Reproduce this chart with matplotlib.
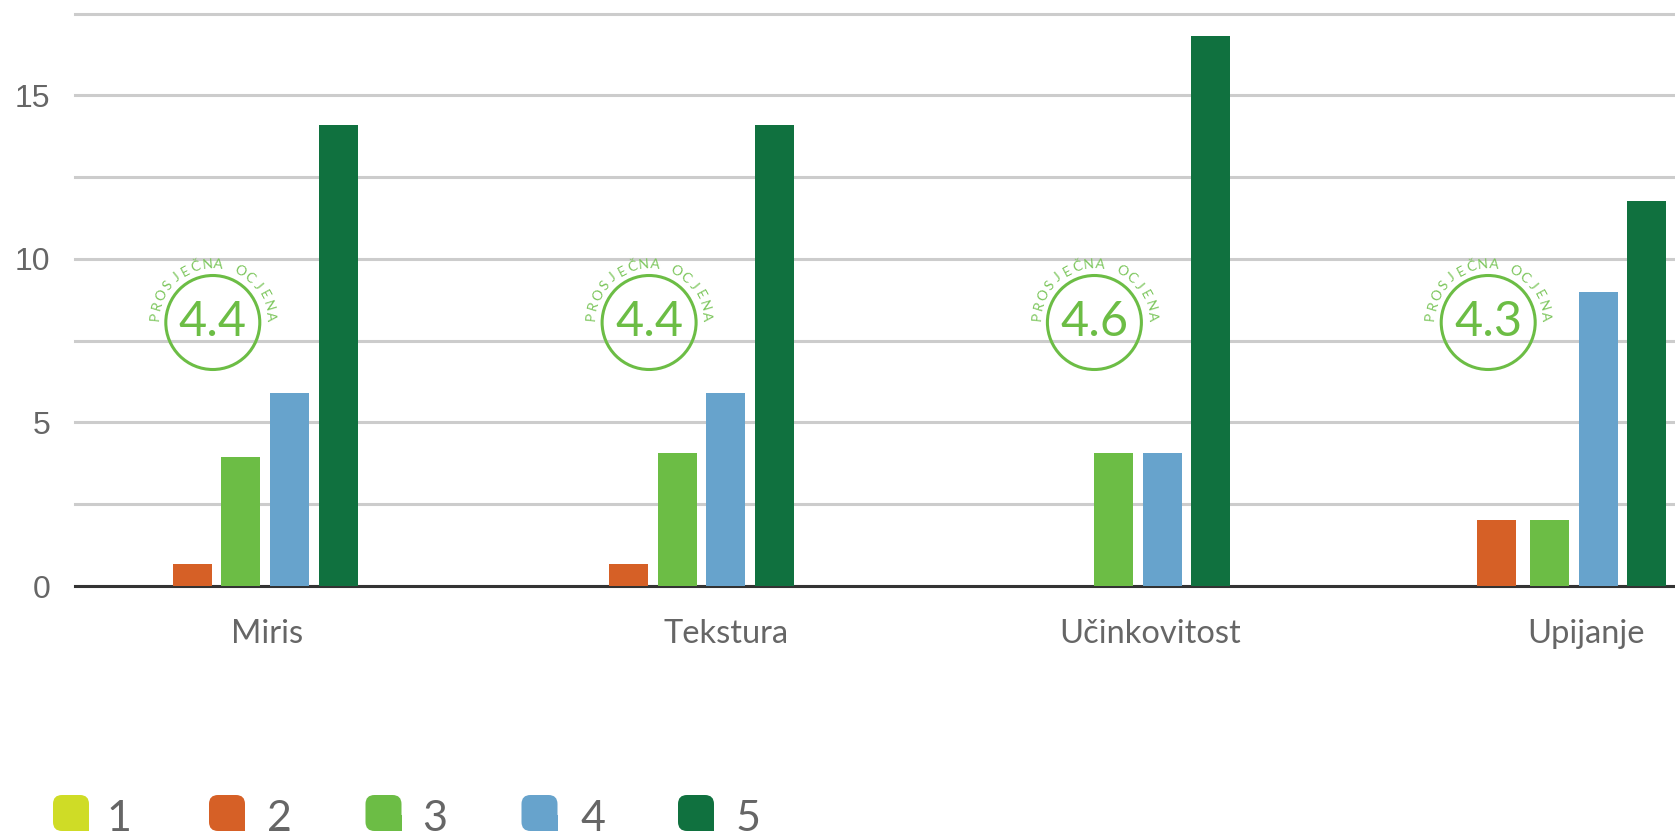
#!/usr/bin/env python3

import matplotlib
matplotlib.use("Agg")
import matplotlib.pyplot as plt
import numpy as np
from matplotlib.patches import Circle, FancyBboxPatch

W, H = 1675, 833

categories = ["Miris", "Tekstura", "Učinkovitost", "Upijanje"]
ratings = ["1", "2", "3", "4", "5"]
series_1 = [0, 0, 0, 0]
series_2 = [0.67, 0.67, 0, 2.03]
series_3 = [3.95, 4.06, 4.06, 2.03]
series_4 = [5.9, 5.9, 4.06, 9]
series_5 = [14.1, 14.1, 16.82, 11.78]
averages = ["4.4", "4.4", "4.6", "4.3"]

series = [series_1, series_2, series_3, series_4, series_5]
colors = ["#cfdc26", "#d66026", "#6cbd45", "#67a3cc", "#10713f"]
text_grey = "#666666"
badge_label = "PROSJEČNA OCJENA"

GROUP0 = 240.8   # px centre of first group
PITCH = 436.3
BAR_STEP = 48.6
BAR_W = 39
LABEL_OFFS = [26, 49, 37, 36]
BADGE_OFFS = [-28, -28, -19, -61.5]

plt.rcParams["font.family"] = ["Lato", "DejaVu Sans"]
fig = plt.figure(figsize=(W / 100, H / 100), dpi=100)

# axes in px-derived x units so that one x unit = one group
left, right = 75, W
ax = fig.add_axes([left / W, 1 - 586 / H, (right - left) / W, (586 - 13.5) / H])
ax.set_xlim((left - GROUP0) / PITCH, (right - GROUP0) / PITCH)
ax.set_ylim(0, 17.5)

x = np.arange(len(categories))
for i, vals in enumerate(series):
    xs = x + (i - 2) * BAR_STEP / PITCH
    if i == 1:
        # the orange bar of the last group sits a bit further left
        xs[3] -= 4.3 / PITCH
    ax.bar(xs, vals, BAR_W / PITCH, color=colors[i], zorder=3)

ax.set_yticks(np.arange(0, 17.6, 2.5), minor=False)
ax.set_yticklabels(["0", "", "5", "", "10", "", "15", ""])
ax.grid(axis="y", color="#cccccc", lw=2.2, zorder=0, clip_on=False)
ax.set_axisbelow(True)
for s in ["top", "left", "right"]:
    ax.spines[s].set_visible(False)
ax.spines["bottom"].set_color("#333333")
ax.spines["bottom"].set_linewidth(2.2)
ax.spines["bottom"].set_zorder(2)
ax.tick_params(axis="y", length=0, pad=18, labelsize=23, labelcolor=text_grey)
for t in ax.get_yticklabels():
    t.set_family(["Liberation Sans"])

ax.set_xticks(x + np.array(LABEL_OFFS) / PITCH)
ax.set_xticklabels(categories)
ax.tick_params(axis="x", length=0, pad=24, labelsize=23.5, labelcolor=text_grey)

# overlay in pixels for the badges and legend
ov = fig.add_axes([0, 0, 1, 1], zorder=5)
ov.set_xlim(0, W)
ov.set_ylim(H, 0)
ov.axis("off")
ov.patch.set_alpha(0)

green = colors[2]
for i, avg in enumerate(averages):
    cx = GROUP0 + i * PITCH + BADGE_OFFS[i]
    cy = 322.5
    ov.add_patch(Circle((cx, cy), 47, fill=False, ec=green, lw=2.2))
    ov.text(cx, cy - 1, avg, color=green, fontsize=35, ha="center", va="center", family=["Lato"])
    # curved label, one text per letter
    n = len(badge_label)
    angles = np.linspace(-84, 84, n)
    for ch, a in zip(badge_label, angles):
        r = 58
        px = cx + r * np.sin(np.radians(a))
        py = cy - r * np.cos(np.radians(a))
        ov.text(px, py, ch, color="#7cc65c", fontsize=10, rotation=-a, rotation_mode="anchor", ha="center", va="center", family=["Lato"])

# legend swatches with a square lower right corner
leg_x = [53, 209, 365.5, 521.5, 678]
leg_text_x = [119, 279, 435, 593, 748]
for lx, tx, c, lab in zip(leg_x, leg_text_x, colors, ratings):
    ov.add_patch(FancyBboxPatch((lx + 6, 801), 24, 24, boxstyle="round,pad=6,rounding_size=9", fc=c, ec="none"))
    ov.fill_between([lx + 20, lx + 36], 815, 831, color=c, lw=0)
    ov.text(tx, 831, lab, color=text_grey, fontsize=31, ha="center", va="baseline", family=["Lato"])

fig.savefig("out.png", dpi=100)
